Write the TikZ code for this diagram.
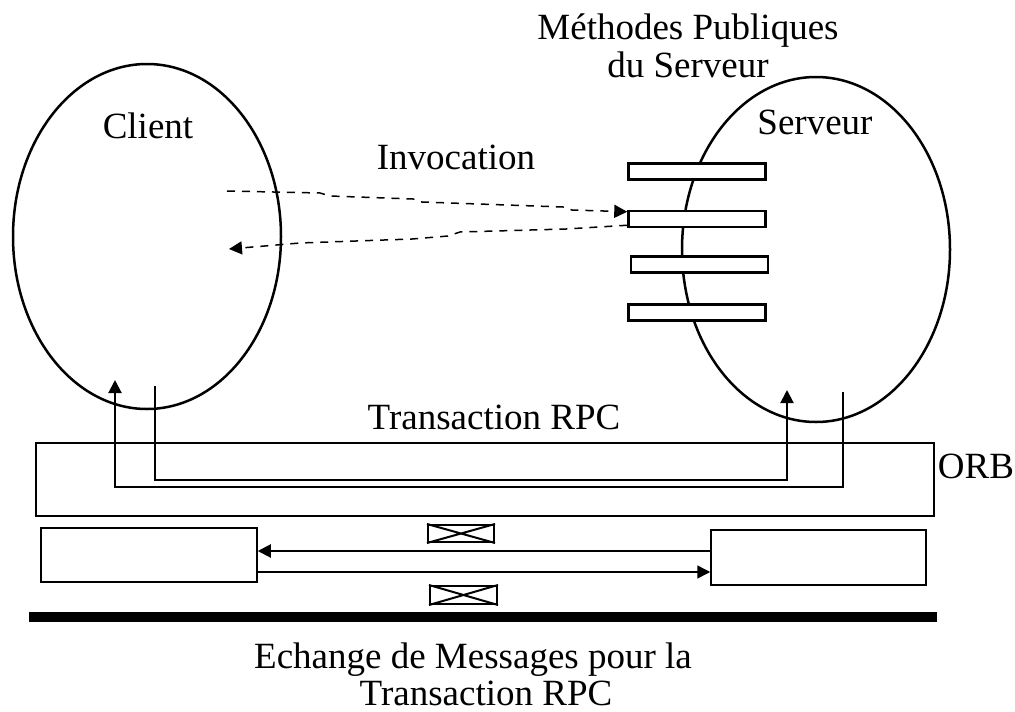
\documentclass[tikz,border=0pt]{standalone}
\usepackage{fontspec}
\setmainfont{Liberation Serif}
\usepackage{tikz}
\usetikzlibrary{shapes.geometric, arrows.meta}

\begin{document}
\begin{tikzpicture}[x=1pt, y=-1pt,
        lbl/.style={font=\fontsize{37}{38}\selectfont, inner sep=0pt},
        oeuf/.style={ellipse, draw, line width=2.5pt, minimum width=268pt, minimum height=345pt, inner sep=0pt},
        methode/.style={draw, fill=white, line width=2.5pt, minimum width=137pt, minimum height=16pt, inner sep=0pt},
        boite/.style={draw, line width=1.5pt, inner sep=0pt},
        appel/.style={line width=1.5pt, dash pattern=on 8pt off 7pt},
        >={Triangle[length=13pt,width=13pt]}]
        \useasboundingbox (0,0) rectangle (1015,712);
        \node[oeuf] (client) at (147,236.5) {};
        \node[oeuf] (serveur) at (816,249.5) {};
        \foreach \n/\x/\y in {1/697/171.5, 2/697/219, 3/699.5/264.5, 4/697/312.5}
            \node[methode] (m\n) at (\x,\y) {};
        \node[lbl, anchor=base] (tclient) at (148,138) {Client};
        \node[lbl, anchor=base] (tserveur) at (815,134) {Serveur};
        \node[lbl, anchor=base] (tinvoc) at (456,169) {Invocation};
        \node[lbl, anchor=base] (tmeth1) at (688,39) {Méthodes Publiques};
        \node[lbl, anchor=base] (tmeth2) at (688,77) {du Serveur};
        \coordinate (ca) at (227,191);
        \coordinate (cb) at (229,249);
        \draw[appel, ->] (ca) -- (320,193) -- (330,196) -- (413,199) -- (422,202) -- (563,207) -- (572,210) -- ([yshift=-2pt]m2.north west);
        \draw[appel, ->] ([yshift=3pt]m2.south west) -- (582,228) -- (566,229) -- (460,232) -- (448,236) -- (412,239) -- (300,243) -- (cb);
        \node[boite, line width=2pt, minimum width=898pt, minimum height=73pt] (orb) at (485,479.5) {};
        \node[lbl, anchor=base] (torb) at (976,478) {ORB};
        \node[lbl, anchor=base] (trpc) at (494,429) {Transaction RPC};
        \coordinate (cout) at (155,386);
        \coordinate (cin) at (115,380);
        \coordinate (sin) at (787,390);
        \coordinate (sout) at (843,392);
        \draw[->, line width=2pt] (cout) -- ++(0,94) -| (sin);
        \draw[->, line width=2pt] (sout) -- ++(0,95) -| (cin);
        \node[boite, minimum width=216pt, minimum height=54pt] (msgL) at (149,555) {};
        \node[boite, minimum width=215pt, minimum height=55pt] (msgR) at (818.5,557.5) {};
        \node[boite, line width=2pt, minimum width=66pt, minimum height=17pt] (e1) at (461,533.5) {};
        \node[boite, line width=2pt, minimum width=67pt, minimum height=18pt] (e2) at (463.5,595) {};
        \foreach \e in {e1, e2}
            \draw[line width=2pt] (\e.north west) -- (\e.south east) (\e.south west) -- (\e.north east);
        \draw[->, line width=2pt] ([yshift=6.5pt]msgR.west) -- ([yshift=4pt]msgL.east);
        \draw[->, line width=1.5pt] ([yshift=-17pt]msgL.east) -- ([yshift=-14.5pt]msgR.west);
        \fill (29,612) rectangle (937,622);
        \node[lbl, anchor=base] (tech1) at (473,668) {Echange de Messages pour la};
        \node[lbl, anchor=base] (tech2) at (486,705) {Transaction RPC};
    \end{tikzpicture}
\end{document}
